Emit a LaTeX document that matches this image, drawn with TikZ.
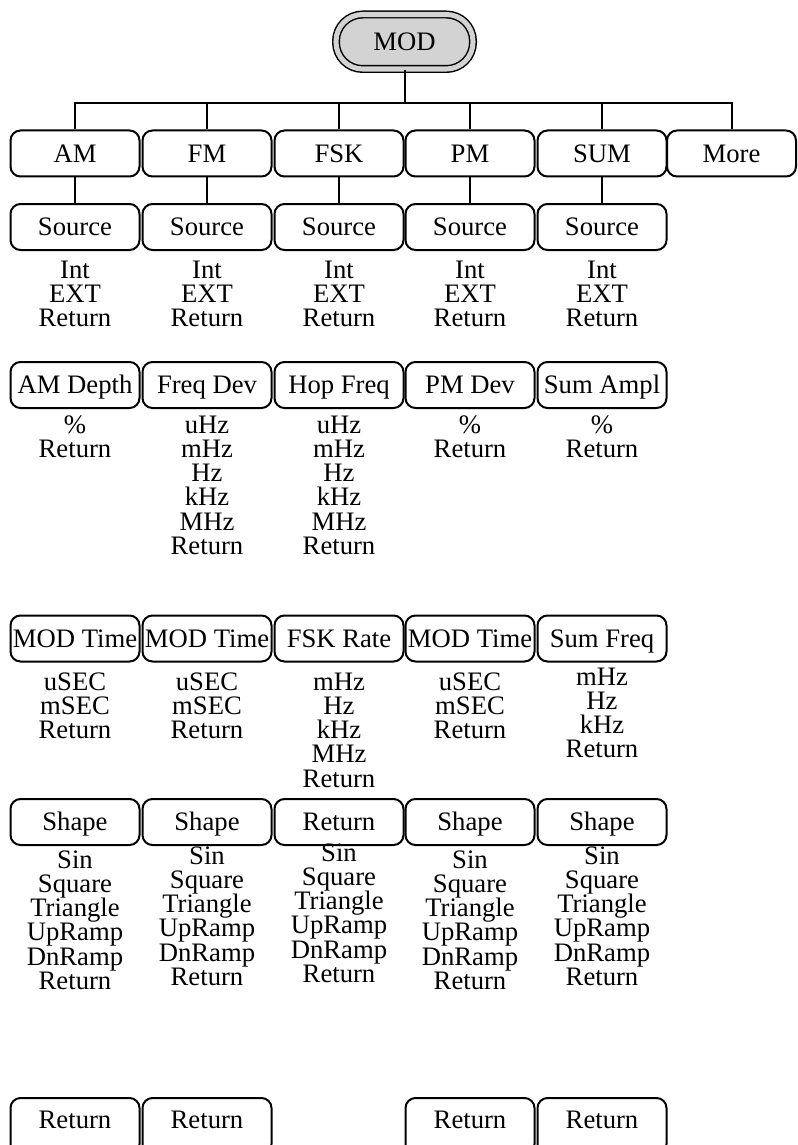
\documentclass[tikz,border=0pt]{standalone}
\usepackage{fontspec}
\setmainfont{Liberation Serif}
\definecolor{modgray}{HTML}{D3D3D3}
\tikzset{
 menubox/.style={draw, line width=1.5pt, rounded corners=7.5pt, minimum width=129*0.75pt, minimum height=46*0.75pt, inner sep=0pt, text height=13.2pt, text depth=0pt},
 cutbox/.style={menubox, minimum height=56*0.75pt, text depth=10.2pt},
 opt/.style={inner sep=0pt, anchor=base},
 modbox/.style={draw, line width=1.1pt, double=modgray, double distance=3.8pt, fill=modgray, rounded corners=20pt, minimum width=137*0.75pt, minimum height=54.5*0.75pt, inner sep=0pt, text height=13.2pt, text depth=0pt},
 link/.style={line width=1.5pt}
}
\newcommand\optlist[4]{%
 \foreach \t [count=\i] in {#4} {\node[opt] (#3-\i) at (#1, #2 + 9 + 24.3*\i - 24.3) {\t};}}
\begin{document}
\begin{tikzpicture}[x=0.75pt, y=-0.75pt, font=\fontsize{20}{24}\selectfont]
\useasboundingbox (0,0) rectangle (797,1145);
% root
\node[modbox] (mod) at (404.5,41.75) {MOD};
\coordinate (bus) at (404.5,103);
% top row
\node[menubox] (am)   at (75,153.5)  {AM};
\node[menubox] (fm)   at (207,153.5) {FM};
\node[menubox] (fsk)  at (339,153.5) {FSK};
\node[menubox] (pm)   at (470,153.5) {PM};
\node[menubox] (sum)  at (602,153.5) {SUM};
\node[menubox] (more) at (731.5,153.5) {More};
% source row
\node[menubox] (s1) at (75,227)  {Source};
\node[menubox] (s2) at (207,227) {Source};
\node[menubox] (s3) at (339,227) {Source};
\node[menubox] (s4) at (470,227) {Source};
\node[menubox] (s5) at (602,227) {Source};
% depth row
\node[menubox] (d1) at (75,385)  {AM Depth};
\node[menubox] (d2) at (207,385) {Freq Dev};
\node[menubox] (d3) at (339,385) {Hop Freq};
\node[menubox] (d4) at (470,385) {PM Dev};
\node[menubox] (d5) at (602,385) {Sum Ampl};
% time row
\node[menubox] (t1) at (75,638.5)  {MOD Time};
\node[menubox] (t2) at (207,638.5) {MOD Time};
\node[menubox] (t3) at (339,638.5) {FSK Rate};
\node[menubox] (t4) at (470,638.5) {MOD Time};
\node[menubox] (t5) at (602,638.5) {Sum Freq};
% shape row
\node[menubox] (h1) at (75,822)  {Shape};
\node[menubox] (h2) at (207,822) {Shape};
\node[menubox] (h3) at (339,822) {Return};
\node[menubox] (h4) at (470,822) {Shape};
\node[menubox] (h5) at (602,822) {Shape};
% return row (bottom edge falls outside the picture)
\node[cutbox] (r1) at (75,1126)  {Return};
\node[cutbox] (r2) at (207,1126) {Return};
\node[cutbox] (r4) at (470,1126) {Return};
\node[cutbox] (r5) at (602,1126) {Return};
% connectors
\draw[link] (mod.south) -- (bus);
\foreach \n in {am,fm,fsk,pm,sum,more} \draw[link] (bus) -| (\n.north);
\foreach \n/\s in {am/s1,fm/s2,fsk/s3,pm/s4,sum/s5} \draw[link] (\n.south) -- (\s.north);
% option lists
\optlist{75}{269}{oa1}{Int,EXT,Return}
\optlist{207}{269}{oa2}{Int,EXT,Return}
\optlist{339}{269}{oa3}{Int,EXT,Return}
\optlist{470}{269}{oa4}{Int,EXT,Return}
\optlist{602}{269}{oa5}{Int,EXT,Return}
\optlist{75}{424}{ob1}{\%,Return}
\optlist{207}{424}{ob2}{uHz,mHz,Hz,kHz,MHz,Return}
\optlist{339}{424}{ob3}{uHz,mHz,Hz,kHz,MHz,Return}
\optlist{470}{424}{ob4}{\%,Return}
\optlist{602}{424}{ob5}{\%,Return}
\optlist{75}{681}{oc1}{uSEC,mSEC,Return}
\optlist{207}{681}{oc2}{uSEC,mSEC,Return}
\optlist{339}{681}{oc3}{mHz,Hz,kHz,MHz,Return}
\optlist{470}{681}{oc4}{uSEC,mSEC,Return}
\optlist{602}{676}{oc5}{mHz,Hz,kHz,Return}
\optlist{75}{859}{od1}{Sin,Square,Triangle,UpRamp,DnRamp,Return}
\optlist{207}{855}{od2}{Sin,Square,Triangle,UpRamp,DnRamp,Return}
\optlist{339}{852}{od3}{Sin,Square,Triangle,UpRamp,DnRamp,Return}
\optlist{470}{859}{od4}{Sin,Square,Triangle,UpRamp,DnRamp,Return}
\optlist{602}{855}{od5}{Sin,Square,Triangle,UpRamp,DnRamp,Return}
\end{tikzpicture}
\end{document}
